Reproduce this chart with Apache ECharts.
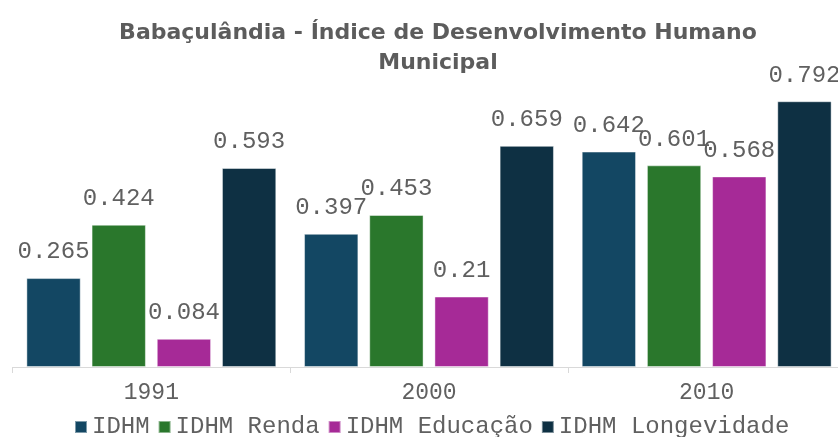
<!DOCTYPE html>
<html>
<head>
<meta charset="utf-8">
<script src="https://cdn.jsdelivr.net/npm/echarts@6/dist/echarts.min.js"></script>
<style>
  html, body { margin: 0; padding: 0; background: #fff; }
  #chart { width: 838px; height: 437px; }
</style>
</head>
<body>
<div id="chart"></div>
<script>
const years = ['1991', '2000', '2010'];
const seriesNames = ['IDHM', 'IDHM Renda', 'IDHM Educação', 'IDHM Longevidade'];
const idhm = [0.265, 0.397, 0.642];
const idhmRenda = [0.424, 0.453, 0.601];
const idhmEducacao = [0.084, 0.21, 0.568];
const idhmLongevidade = [0.593, 0.659, 0.792];
const colors = ['#134763', '#2a772c', '#a62a97', '#0e3043'];

const mono = '"Liberation Mono", "Courier New", monospace';
const values = [idhm, idhmRenda, idhmEducacao, idhmLongevidade];

const chart = echarts.init(document.getElementById('chart'), null, { renderer: 'canvas' });

chart.setOption({
  animation: false,
  color: colors,
  title: {
    text: 'Babaçulândia - Índice de Desenvolvimento Humano\nMunicipal',
    left: 433,
    top: 13,
    textAlign: 'center',
    textStyle: {
      fontFamily: '"DejaVu Sans", Arial, sans-serif',
      fontWeight: 'bold',
      fontSize: 22,
      lineHeight: 30,
      color: '#5c5c5c',
    },
  },
  legend: {
    data: seriesNames,
    top: 410,
    left: 69,
    icon: 'rect',
    itemWidth: 12,
    itemHeight: 12,
    itemGap: 8,
    textStyle: { fontFamily: mono, fontSize: 24, color: '#606060' },
  },
  // the last category runs a little past the right edge, as in the reference
  grid: {
    left: 12.5,
    width: 833,
    top: 65,
    bottom: 70,
    containLabel: false,
    outerBoundsMode: 'none',
  },
  xAxis: {
    type: 'category',
    data: years,
    axisLine: { lineStyle: { color: '#d9d9d9', width: 1 } },
    axisTick: { show: true, length: 6, lineStyle: { color: '#d9d9d9' } },
    axisLabel: { fontFamily: mono, fontSize: 23, color: '#606060', margin: 14 },
  },
  yAxis: {
    type: 'value',
    min: 0,
    max: 0.9,
    show: false,
    splitLine: { show: false },
  },
  series: seriesNames.map((name, i) => ({
    name,
    type: 'bar',
    data: values[i],
    barGap: '20%',
    barCategoryGap: '10%',
    itemStyle: { color: colors[i], borderColor: 'rgba(255,255,255,0.45)', borderWidth: 1 },
    label: {
      show: true,
      position: 'top',
      distance: 14,
      fontFamily: mono,
      fontSize: 24,
      color: '#606060',
    },
  })),
});
</script>
</body>
</html>
